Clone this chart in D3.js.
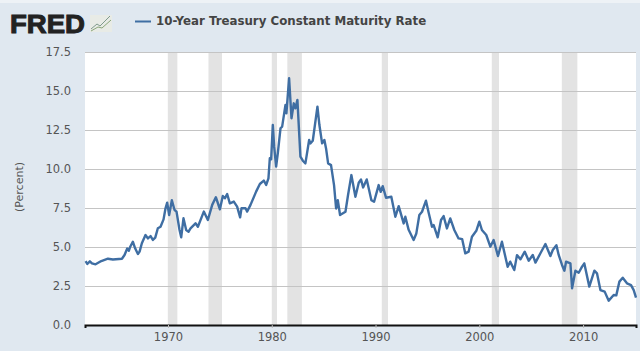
<!DOCTYPE html>
<html>
<head>
<meta charset="utf-8">
<script src="https://cdnjs.cloudflare.com/ajax/libs/d3/7.8.5/d3.min.js"></script>
<style>
  html, body { margin: 0; padding: 0; background: #e0e8f0; }
  svg { display: block; }
</style>
</head>
<body>
<div id="chart"></div>
<script>
let width = 640
let height = 351
let margin = { left: 85, right: 4, top: 52, bottom: 26 }

// values, ten to a row in both arrays
let years = [
  1962.06, 1962.22, 1962.47, 1962.67, 1963.02, 1963.57, 1964.21, 1964.69, 1965.56, 1965.81,
  1966.07, 1966.23, 1966.36, 1966.61, 1966.84, 1967.1, 1967.26, 1967.48, 1967.83, 1968.06,
  1968.32, 1968.54, 1968.77, 1969.02, 1969.28, 1969.57, 1969.76, 1969.92, 1970.11, 1970.37,
  1970.63, 1970.82, 1971.11, 1971.27, 1971.49, 1971.75, 1971.98, 1972.17, 1972.65, 1972.88,
  1973.45, 1973.84, 1974.26, 1974.61, 1975.0, 1975.28, 1975.48, 1975.7, 1975.96, 1976.34,
  1976.66, 1976.95, 1977.08, 1977.47, 1977.63, 1977.95, 1978.49, 1978.85, 1979.23, 1979.46,
  1979.68, 1979.81, 1979.94, 1980.1, 1980.23, 1980.42, 1980.58, 1980.84, 1981.0, 1981.22,
  1981.32, 1981.41, 1981.67, 1981.9, 1982.12, 1982.28, 1982.47, 1982.76, 1982.99, 1983.24,
  1983.6, 1983.72, 1983.95, 1984.4, 1984.59, 1984.85, 1985.07, 1985.23, 1985.43, 1985.71,
  1986.0, 1986.2, 1986.36, 1986.58, 1987.1, 1987.35, 1987.67, 1988.06, 1988.38, 1988.6,
  1988.8, 1989.15, 1989.6, 1989.86, 1990.3, 1990.5, 1990.69, 1991.01, 1991.52, 1991.91,
  1992.23, 1992.71, 1992.87, 1993.19, 1993.67, 1993.93, 1994.22, 1994.48, 1994.86, 1995.12,
  1995.44, 1995.6, 1995.99, 1996.31, 1996.56, 1996.88, 1997.2, 1997.59, 1998.0, 1998.35,
  1998.65, 1998.97, 1999.29, 1999.71, 2000.0, 2000.25, 2000.67, 2001.06, 2001.38, 2001.8,
  2002.18, 2002.73, 2002.98, 2003.37, 2003.63, 2003.96, 2004.38, 2004.76, 2005.15, 2005.41,
  2005.89, 2006.37, 2006.85, 2007.08, 2007.43, 2007.65, 2007.97, 2008.2, 2008.36, 2008.78,
  2008.94, 2009.26, 2009.58, 2009.9, 2010.12, 2010.6, 2011.09, 2011.34, 2011.67, 2012.08,
  2012.47, 2012.95, 2013.2, 2013.5, 2013.82, 2014.23, 2014.62, 2014.88, 2015.1
]
let rates = [
  4.1, 3.91, 4.08, 3.95, 3.89, 4.1, 4.25, 4.2, 4.25, 4.49,
  4.9, 4.76, 5.02, 5.34, 4.9, 4.55, 4.7, 5.24, 5.77, 5.55,
  5.7, 5.45, 5.6, 6.2, 6.3, 6.77, 7.48, 7.84, 7.05, 8.0,
  7.37, 7.27, 6.09, 5.62, 6.84, 6.09, 5.98, 6.2, 6.52, 6.3,
  7.27, 6.73, 7.7, 8.19, 7.42, 8.27, 8.12, 8.4, 7.8, 7.91,
  7.59, 6.9, 7.48, 7.48, 7.27, 7.7, 8.55, 9.04, 9.26, 8.98,
  9.4, 10.69, 10.62, 12.82, 11.43, 10.15, 11.0, 12.61, 12.72, 13.68,
  14.1, 13.57, 15.82, 13.25, 14.21, 13.89, 14.43, 10.79, 10.53, 10.36,
  11.86, 11.64, 11.81, 14.0, 12.82, 11.64, 11.86, 11.32, 10.36, 10.25,
  8.97, 7.47, 8.0, 7.05, 7.26, 8.33, 9.61, 8.22, 9.12, 9.33,
  8.82, 9.33, 8.0, 7.9, 8.97, 8.54, 8.9, 8.16, 8.22, 6.94,
  7.62, 6.51, 6.94, 6.1, 5.45, 5.87, 7.05, 7.26, 7.97, 7.2,
  6.3, 6.41, 5.62, 6.73, 6.98, 6.19, 6.83, 6.09, 5.55, 5.5,
  4.59, 4.7, 5.66, 6.04, 6.62, 6.09, 5.77, 5.02, 5.45, 4.42,
  5.34, 3.73, 4.06, 3.52, 4.48, 4.21, 4.7, 4.12, 4.49, 4.0,
  4.6, 5.19, 4.42, 4.81, 5.11, 4.49, 3.85, 3.48, 4.06, 3.95,
  2.35, 3.48, 3.35, 3.74, 3.95, 2.46, 3.48, 3.31, 2.24, 2.14,
  1.56, 1.92, 1.9, 2.78, 3.03, 2.67, 2.56, 2.24, 1.75
]

let recessionStart = [1969.98, 1973.9, 1980.0, 1981.5, 1990.6, 2001.2, 2007.95]
let recessionEnd = [1970.9, 1975.2, 1980.5, 1982.9, 1991.2, 2001.9, 2009.45]

let yTicks = [0, 2.5, 5, 7.5, 10, 12.5, 15, 17.5]
let xTicks = [1970, 1980, 1990, 2000, 2010]
let title = "10-Year Treasury Constant Maturity Rate"

let svg = d3.select("#chart").append("svg")
  .attr("width", width)
  .attr("height", height)

let x = d3.scaleLinear().domain([1962, 2015.1]).range([margin.left, width - margin.right])
let y = d3.scaleLinear().domain([0, 17.5]).range([height - margin.bottom, margin.top])

// page band at the very top
svg.append("rect").attr("width", width).attr("height", 3).attr("fill", "#eef2f6")

// plot area
svg.append("rect")
  .attr("x", margin.left)
  .attr("y", margin.top)
  .attr("width", width - margin.left - margin.right)
  .attr("height", height - margin.top - margin.bottom)
  .attr("fill", "#fff")

// recession bands
svg.selectAll(".recession")
  .data(recessionStart)
  .enter()
  .append("rect")
  .attr("class", "recession")
  .attr("x", d => x(d))
  .attr("y", margin.top)
  .attr("width", (d, i) => x(recessionEnd[i]) - x(d))
  .attr("height", height - margin.top - margin.bottom)
  .attr("fill", "#e3e3e3")

// y axis with full width gridlines
let yAxis = d3.axisLeft(y)
  .tickValues(yTicks)
  .tickFormat(d3.format(".1f"))
  .tickSize(-(width - margin.left - margin.right))
  .tickPadding(14)

svg.append("g")
  .attr("transform", "translate(" + margin.left + ",0)")
  .call(yAxis)
  .call(g => g.select(".domain").remove())
  .call(g => g.selectAll(".tick line").attr("stroke", "#c4c4c4").attr("stroke-width", 1))
  .call(g => g.selectAll("text").attr("fill", "#555").attr("font-family", "'DejaVu Sans', sans-serif").attr("font-size", 11.5))

// x axis
let xAxis = d3.axisBottom(x)
  .tickValues(xTicks)
  .tickFormat(d3.format("d"))
  .tickSize(3)
  .tickPadding(5)

svg.append("g")
  .attr("transform", "translate(0," + (height - margin.bottom) + ")")
  .call(xAxis)
  .call(g => g.select(".domain").attr("stroke", "#111").attr("stroke-width", 2))
  .call(g => g.selectAll(".tick line").attr("stroke", "#bbb"))
  .call(g => g.selectAll("text").attr("fill", "#555").attr("font-family", "'DejaVu Sans', sans-serif").attr("font-size", 11.5))

// the rate line
let line = d3.line().x(d => x(d[0])).y(d => y(d[1]))

svg.append("path")
  .datum(years.map((d, i) => [d, rates[i]]))
  .attr("d", line)
  .attr("fill", "none")
  .attr("stroke", "#3f6ea3")
  .attr("stroke-width", 2.4)
  .attr("stroke-linejoin", "round")

// y axis label
svg.append("text")
  .attr("transform", "translate(23,187) rotate(-90)")
  .attr("text-anchor", "middle")
  .attr("fill", "#555")
  .attr("font-family", "'DejaVu Sans', sans-serif")
  .attr("font-size", 11)
  .text("(Percent)")

// logo
svg.append("text")
  .attr("x", 10)
  .attr("y", 32.5)
  .attr("fill", "#222")
  .attr("stroke", "#222")
  .attr("stroke-width", 1)
  .attr("font-family", "'Liberation Sans', sans-serif")
  .attr("font-weight", "bold")
  .attr("font-size", 26)
  .attr("textLength", 75)
  .attr("lengthAdjust", "spacingAndGlyphs")
  .text("FRED")

svg.append("rect").attr("x", 90).attr("y", 15).attr("width", 22).attr("height", 17).attr("fill", "#e8ebe6")

let logoLines = [[[91, 29], [97, 24], [100, 26], [110, 16]], [[91, 31], [98, 27], [102, 28], [111, 20]]]
svg.selectAll(".logo-line")
  .data(logoLines)
  .enter()
  .append("path")
  .attr("d", d3.line())
  .attr("fill", "none")
  .attr("stroke", (d, i) => i ? "#8aa67a" : "#7f9a8c")
  .attr("stroke-width", 1)

// legend
svg.append("line")
  .attr("x1", 135).attr("x2", 151)
  .attr("y1", 21.5).attr("y2", 21.5)
  .attr("stroke", "#3f6ea3")
  .attr("stroke-width", 2)

svg.append("text")
  .attr("x", 156)
  .attr("y", 25)
  .attr("fill", "#444")
  .attr("font-family", "'DejaVu Sans', sans-serif")
  .attr("font-weight", "bold")
  .attr("font-size", 11.8)
  .text(title)
</script>
</body>
</html>
